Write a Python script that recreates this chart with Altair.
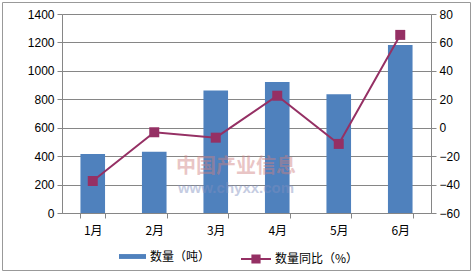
import altair as alt
import pandas as pd

months = ["1月", "2月", "3月", "4月", "5月", "6月"]
qty = [415, 431, 861, 922, 835, 1182]
yoy = [-37.5, -3.2, -7.0, 22.5, -11.4, 65.3]
s_bar = "数量（吨）"
s_line = "数量同比（%）"
wm_cn = "中国产业信息"
wm_url = "www.chyxx.com"

BLUE = "#4F81BD"
PURPLE = "#953064"
GRID = "#868686"
FONT = "Liberation Sans"
CJK = "Noto Sans CJK SC"

df = pd.DataFrame({"month": months, "qty": qty, "yoy": yoy,
                   "sb": [s_bar] * 6, "sl": [s_line] * 6})

xenc = alt.X("month:N", sort=months, title=None,
             scale=alt.Scale(paddingInner=0.6, paddingOuter=0.3),
             axis=alt.Axis(tickBand="extent", labelAngle=0, labelFont=CJK,
                           labelFontSize=12, labelColor="#000", domainColor=GRID,
                           tickColor=GRID, tickSize=5, labelPadding=7, grid=False))

bar_path = "M-1,-0.18L1,-0.18L1,0.18L-1,0.18Z"
line_path = "M-1,0L1,0M-0.24,-0.24L0.24,-0.24L0.24,0.24L-0.24,0.24Z"

bar_legend = alt.Legend(
    title=None, orient="none", legendX=57, legendY=229, padding=0,
    labelFont=CJK, labelFontSize=12, labelColor="#000",
    symbolType=bar_path, symbolSize=729, symbolFillColor=BLUE,
    symbolStrokeWidth=0, labelOffset=4, symbolOpacity=1)

line_legend = alt.Legend(
    title=None, orient="none", legendX=178, legendY=229, padding=0,
    labelFont=CJK, labelFontSize=12, labelColor="#000",
    symbolType=line_path, symbolSize=900, symbolFillColor=PURPLE,
    symbolStrokeColor=PURPLE, symbolStrokeWidth=2, labelOffset=3, symbolOpacity=1)

base = alt.Chart(df)

bars = base.mark_bar(opacity=1).encode(
    x=xenc,
    y=alt.Y("qty:Q", title=None, scale=alt.Scale(domain=[0, 1400], nice=False),
            axis=alt.Axis(values=list(range(0, 1401, 200)), orient="left", format="d",
                          labelFont=FONT, labelFontSize=12, labelColor="#000",
                          domainColor=GRID, tickColor=GRID, tickSize=5,
                          gridColor=GRID, gridOpacity=1, labelPadding=3)),
    fill=alt.Fill("sb:N", scale=alt.Scale(domain=[s_bar], range=[BLUE]), legend=bar_legend),
)

yr = alt.Y("yoy:Q", title=None, scale=alt.Scale(domain=[-60, 80], nice=False),
           axis=alt.Axis(values=list(range(-60, 81, 20)), orient="right", format="d",
                         labelFont=FONT, labelFontSize=12, labelColor="#000",
                         domainColor=GRID, tickColor=GRID, tickSize=5, grid=False,
                         labelPadding=3))

cscale = alt.Scale(domain=[s_line], range=[PURPLE])
line = base.mark_line(strokeWidth=2).encode(
    x=xenc, y=yr, color=alt.Color("sl:N", scale=cscale, legend=line_legend))
pts = base.mark_point(shape="square", filled=True, size=100, opacity=1).encode(
    x=xenc, y=yr, color=alt.Color("sl:N", scale=cscale, legend=line_legend))

wm1 = alt.Chart(pd.DataFrame({"t": [wm_cn]})).mark_text(
    font=CJK, fontWeight="bold", opacity=0.45, fontSize=20, color="#d08080").encode(
    text="t:N", x=alt.value(174), y=alt.value(153))
wm2 = alt.Chart(pd.DataFrame({"t": [wm_url]})).mark_text(
    font=FONT, fontWeight="bold", opacity=0.45, fontSize=15, color="#8090c0").encode(
    text="t:N", x=alt.value(174), y=alt.value(174))

frame = alt.Chart(pd.DataFrame({"a": [0]})).mark_rect(
    fill=None, stroke="#999999", strokeWidth=1).encode(
    x=alt.value(-59.5), x2=alt.value(408.5), y=alt.value(-11.5), y2=alt.value(256.5))

chart = alt.layer(bars, alt.layer(line, pts), wm1, wm2, frame).resolve_scale(
    y="independent").properties(
    width=369, height=199,
    autosize=alt.AutoSizeParams(type="none"),
    padding={"left": 62, "top": 14, "right": 43, "bottom": 60},
).configure_view(stroke=None).configure(background="white")

chart.save("out.html", embed_options={"renderer": "svg", "actions": False})
